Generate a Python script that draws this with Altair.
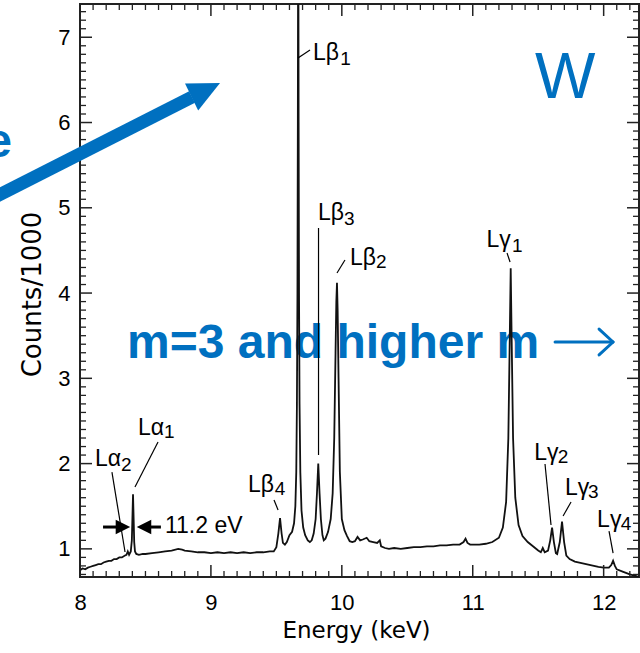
import altair as alt
import pandas as pd

# ---------------- spectrum ----------------
energy = [
    8.00, 8.02, 8.04, 8.06, 8.08, 8.10, 8.12, 8.14, 8.16, 8.18,
    8.20, 8.22, 8.24, 8.26, 8.28, 8.30, 8.32, 8.34, 8.355, 8.365,
    8.375, 8.388, 8.396, 8.401, 8.405, 8.409, 8.414, 8.42, 8.43, 8.45,
    8.48, 8.50, 8.55, 8.60, 8.65, 8.70, 8.75, 8.78, 8.80, 8.85,
    8.90, 8.95, 9.00, 9.05, 9.10, 9.15, 9.20, 9.25, 9.30, 9.35,
    9.40, 9.45, 9.48, 9.50, 9.515, 9.528, 9.54, 9.55, 9.565, 9.58,
    9.60, 9.62, 9.635, 9.645, 9.652, 9.657, 9.661, 9.664, 9.667, 9.670,
    9.673, 9.677, 9.683, 9.692, 9.705, 9.72, 9.74, 9.756, 9.77, 9.785,
    9.80, 9.81, 9.82, 9.83, 9.84, 9.852, 9.862, 9.875, 9.895, 9.915,
    9.93, 9.942, 9.952, 9.958, 9.963, 9.968, 9.975, 9.985, 10.00, 10.02,
    10.04, 10.06, 10.08, 10.10, 10.12, 10.14, 10.16, 10.19, 10.21, 10.24,
    10.27, 10.29, 10.30, 10.33, 10.36, 10.40, 10.45, 10.50, 10.55, 10.60,
    10.65, 10.70, 10.75, 10.80, 10.85, 10.90, 10.93, 10.945, 10.96, 10.98,
    11.00, 11.05, 11.10, 11.15, 11.20, 11.23, 11.255, 11.272, 11.283, 11.29,
    11.297, 11.308, 11.325, 11.35, 11.38, 11.42, 11.46, 11.50, 11.52, 11.535,
    11.55, 11.575, 11.592, 11.606, 11.62, 11.635, 11.645, 11.665, 11.682, 11.698,
    11.715, 11.74, 11.78, 11.84, 11.90, 11.96, 12.00, 12.04, 12.058, 12.072,
    12.086, 12.10, 12.15, 12.20, 12.25, 12.28,
]
counts = [
    0.75, 0.77, 0.76, 0.78, 0.79, 0.80, 0.81, 0.82, 0.82, 0.84,
    0.85, 0.86, 0.86, 0.88, 0.88, 0.90, 0.90, 0.92, 0.93, 0.97,
    0.93, 0.97, 1.10, 1.40, 1.64, 1.40, 1.08, 0.97, 0.94, 0.93,
    0.94, 0.94, 0.95, 0.96, 0.97, 0.98, 1.00, 0.99, 0.98, 0.97,
    0.96, 0.96, 0.95, 0.96, 0.95, 0.96, 0.95, 0.96, 0.95, 0.96,
    0.96, 0.97, 0.97, 1.02, 1.18, 1.36, 1.18, 1.07, 1.05, 1.08,
    1.16, 1.20, 1.30, 1.50, 1.90, 2.70, 4.00, 6.00, 9.00, 6.00,
    4.00, 2.70, 1.90, 1.45, 1.25, 1.16, 1.10, 1.08, 1.10, 1.18,
    1.35, 1.65, 2.00, 1.65, 1.35, 1.16, 1.10, 1.12, 1.20, 1.35,
    1.65, 2.30, 3.30, 3.90, 4.12, 3.80, 3.00, 1.90, 1.35, 1.22,
    1.15, 1.09, 1.08, 1.09, 1.14, 1.10, 1.11, 1.13, 1.09, 1.08,
    1.07, 1.10, 1.03, 1.01, 1.00, 1.01, 1.00, 1.01, 1.02, 1.02,
    1.03, 1.03, 1.04, 1.04, 1.05, 1.05, 1.08, 1.12, 1.07, 1.05,
    1.05, 1.05, 1.06, 1.08, 1.13, 1.25, 1.55, 2.30, 3.50, 4.29,
    3.50, 2.30, 1.60, 1.28, 1.15, 1.08, 1.03, 0.98, 0.96, 1.01,
    0.96, 0.98, 1.10, 1.25, 1.08, 0.95, 0.94, 1.08, 1.32, 1.08,
    0.92, 0.88, 0.85, 0.83, 0.81, 0.79, 0.78, 0.78, 0.81, 0.86,
    0.80, 0.76, 0.73, 0.70, 0.68, 0.66,
]

# ---------------- axis ticks ----------------
x_major = [8, 9, 10, 11, 12]
y_major = [1, 2, 3, 4, 5, 6, 7]
x_minor = [round(8 + i * 0.1, 1) for i in range(43) if i % 10 != 0]
y_minor = [round(0.7 + i * 0.1, 1) for i in range(67) if (i + 7) % 10 != 0]

# ---------------- line labels ----------------
lab_main = ["Lα", "Lα", "Lβ", "Lβ", "Lβ", "Lβ", "Lγ", "Lγ", "Lγ", "Lγ"]
lab_sub = ["2", "1", "4", "1", "3", "2", "1", "2", "3", "4"]
lab_E = [8.115, 8.443, 9.283, 9.780, 9.818, 10.063, 11.105, 11.470, 11.705, 11.950]
lab_C = [1.97, 2.335, 1.667, 6.733, 4.857, 4.329, 4.540, 2.042, 1.632, 1.256]
sub_E = [8.313, 8.641, 9.487, 9.988, 10.017, 10.261, 11.300, 11.650, 11.880, 12.130]
sub_C = [1.913, 2.30, 1.632, 6.674, 4.798, 4.294, 4.481, 2.007, 1.596, 1.221]

# leader lines
lead_E = [8.244, 8.596, 9.482, 9.665, 9.822, 9.963, 11.262, 11.552, 11.751, 12.041]
lead_C = [1.901, 2.253, 1.573, 6.757, 4.763, 4.235, 4.470, 1.995, 1.550, 1.209]
lead_E2 = [8.344, 8.420, 9.513, 9.757, 9.822, 10.024, 11.285, 11.598, 11.690, 12.072]
lead_C2 = [0.963, 1.725, 1.456, 6.850, 2.101, 4.388, 4.364, 1.280, 1.385, 0.951]

BLUE = "#0070C0"
W, H = 559, 573
xs = alt.Scale(domain=[8.0, 12.27], nice=False, zero=False)
ys = alt.Scale(domain=[0.67, 7.39], nice=False, zero=False)

spec = pd.DataFrame({"E": energy, "C": counts})

x_axis = alt.Axis(values=x_major, format="d", ticks=False, tickSize=0, domain=False, grid=False,
                  labelFont="Liberation Sans", labelFontSize=22, labelColor="black",
                  labelPadding=15, labelFlush=False,
                  title="Energy (keV)", titleFont="DejaVu Sans", titleFontSize=23,
                  titleFontWeight="normal", titleColor="black",
                  titleX=276, titleY=60, titleAlign="center", titleBaseline="alphabetic")
y_axis = alt.Axis(values=y_major, format="d", ticks=False, tickSize=0, domain=False, grid=False,
                  labelFont="Liberation Sans", labelFontSize=22, labelColor="black",
                  labelPadding=10, labelFlush=False,
                  title="Counts/1000", titleFont="DejaVu Sans", titleFontSize=26,
                  titleFontWeight="normal", titleColor="black", titleAngle=270,
                  titleX=-40, titleY=290, titleAlign="center", titleBaseline="alphabetic")

X = lambda f="E": alt.X(f"{f}:Q", scale=xs)
Y = lambda f="C": alt.Y(f"{f}:Q", scale=ys)

# blue overlay text (drawn below the spectrum)
blue_m = alt.Chart(pd.DataFrame({"E": [8.359], "C": [3.238], "t": ["m=3 and higher m"]})).mark_text(
    align="left", baseline="alphabetic", font="Liberation Sans", fontSize=48,
    fontWeight="bold", color=BLUE).encode(x=X(), y=Y(), text="t:N")

line = alt.Chart(spec).mark_line(color="#111111", strokeWidth=1.8, clip=True).encode(
    x=alt.X("E:Q", scale=xs, axis=x_axis),
    y=alt.Y("C:Q", scale=ys, axis=y_axis),
    order="E:Q",
)

tick_col = "#222222"
xmin_df = pd.DataFrame({"E": x_minor})
xmaj_df = pd.DataFrame({"E": x_major})
ymin_df = pd.DataFrame({"C": y_minor})
ymaj_df = pd.DataFrame({"C": y_major})
ticks = [
    alt.Chart(xmin_df).mark_rule(color=tick_col, strokeWidth=1.3).encode(x=X(), y=alt.value(H), y2=alt.value(H - 6)),
    alt.Chart(xmin_df).mark_rule(color=tick_col, strokeWidth=1.3).encode(x=X(), y=alt.value(0), y2=alt.value(6)),
    alt.Chart(xmaj_df).mark_rule(color=tick_col, strokeWidth=1.5).encode(x=X(), y=alt.value(H), y2=alt.value(H - 12)),
    alt.Chart(xmaj_df).mark_rule(color=tick_col, strokeWidth=1.5).encode(x=X(), y=alt.value(0), y2=alt.value(12)),
    alt.Chart(ymin_df).mark_rule(color=tick_col, strokeWidth=1.3).encode(y=Y(), x=alt.value(0), x2=alt.value(6)),
    alt.Chart(ymin_df).mark_rule(color=tick_col, strokeWidth=1.3).encode(y=Y(), x=alt.value(W), x2=alt.value(W - 6)),
    alt.Chart(ymaj_df).mark_rule(color=tick_col, strokeWidth=1.5).encode(y=Y(), x=alt.value(0), x2=alt.value(12)),
    alt.Chart(ymaj_df).mark_rule(color=tick_col, strokeWidth=1.5).encode(y=Y(), x=alt.value(W), x2=alt.value(W - 12)),
]

lab_df = pd.DataFrame({"E": lab_E, "C": lab_C, "t": lab_main})
sub_df = pd.DataFrame({"E": sub_E, "C": sub_C, "t": lab_sub})
lead_df = pd.DataFrame({"E": lead_E, "C": lead_C, "E2": lead_E2, "C2": lead_C2})

labels = alt.Chart(lab_df).mark_text(align="left", baseline="alphabetic", font="Liberation Sans",
                                     fontSize=23, color="black").encode(x=X(), y=Y(), text="t:N")
subs = alt.Chart(sub_df).mark_text(align="left", baseline="alphabetic", font="Liberation Sans",
                                   fontSize=19, color="black").encode(x=X(), y=Y(), text="t:N")
leads = alt.Chart(lead_df).mark_rule(color="black", strokeWidth=1.2).encode(
    x=X(), y=Y(), x2="E2:Q", y2="C2:Q")

# 11.2 eV width marker
fw_text = alt.Chart(pd.DataFrame({"E": [8.649], "C": [1.186], "t": ["11.2 eV"]})).mark_text(
    align="left", baseline="alphabetic", font="Liberation Sans", fontSize=23, color="black"
).encode(x=X(), y=Y(), text="t:N")
fw_shaft = alt.Chart(pd.DataFrame({"E": [8.176, 8.489], "E2": [8.328, 8.618], "C": [1.256, 1.256]})).mark_rule(
    color="black", strokeWidth=3).encode(x=X(), x2="E2:Q", y=Y())
head_r = alt.Chart(pd.DataFrame({"E": [8.328], "C": [1.256]})).mark_point(
    shape="M-1,-1L1,0L-1,1Z", size=210, filled=True, color="black", opacity=1).encode(x=X(), y=Y())
head_l = alt.Chart(pd.DataFrame({"E": [8.489], "C": [1.256]})).mark_point(
    shape="M1,-1L-1,0L1,1Z", size=210, filled=True, color="black", opacity=1).encode(x=X(), y=Y())

# blue slide overlays
big_shaft = alt.Chart(pd.DataFrame({"E": [7.351], "C": [5.126], "E2": [8.856], "C2": [6.299]})).mark_rule(
    color=BLUE, strokeWidth=13, strokeCap="butt").encode(x=X(), y=Y(), x2="E2:Q", y2="C2:Q")
big_head = alt.Chart(pd.DataFrame({"E": [8.961], "C": [6.381]})).mark_point(
    shape="M-1,-0.95L1,0L-1,0.95Z", size=1000, angle=334, filled=True, color=BLUE, opacity=1
).encode(x=X(), y=Y())
small_arrow = alt.Chart(pd.DataFrame({
    "E": [11.629, 11.965, 11.965], "C": [3.426, 3.578, 3.274],
    "E2": [12.065, 12.072, 12.072], "C2": [3.426, 3.426, 3.426]})).mark_rule(
    color=BLUE, strokeWidth=3, strokeCap="round").encode(x=X(), y=Y(), x2="E2:Q", y2="C2:Q")
w_text = alt.Chart(pd.DataFrame({"E": [11.476], "C": [6.287], "t": ["W"]})).mark_text(
    align="left", baseline="alphabetic", font="Liberation Sans", fontSize=64, color=BLUE
).encode(x=X(), y=Y(), text="t:N")
e_text = alt.Chart(pd.DataFrame({"E": [7.481], "C": [5.596], "t": ["e"]})).mark_text(
    align="right", baseline="alphabetic", font="Liberation Sans", fontSize=48, fontWeight="bold", color=BLUE
).encode(x=X(), y=Y(), text="t:N")

chart = alt.layer(
    blue_m, line, *ticks, leads, labels, subs, fw_shaft, head_r, head_l, fw_text,
    big_shaft, big_head, small_arrow, w_text, e_text,
).properties(
    width=W, height=H,
    autosize=alt.AutoSizeParams(type="none"),
    padding={"left": 80, "top": 4, "right": 1, "bottom": 76},
    background="white",
).configure_view(stroke="#222222", strokeWidth=2)

chart.save("out.html", embed_options={"renderer": "svg", "actions": False})
